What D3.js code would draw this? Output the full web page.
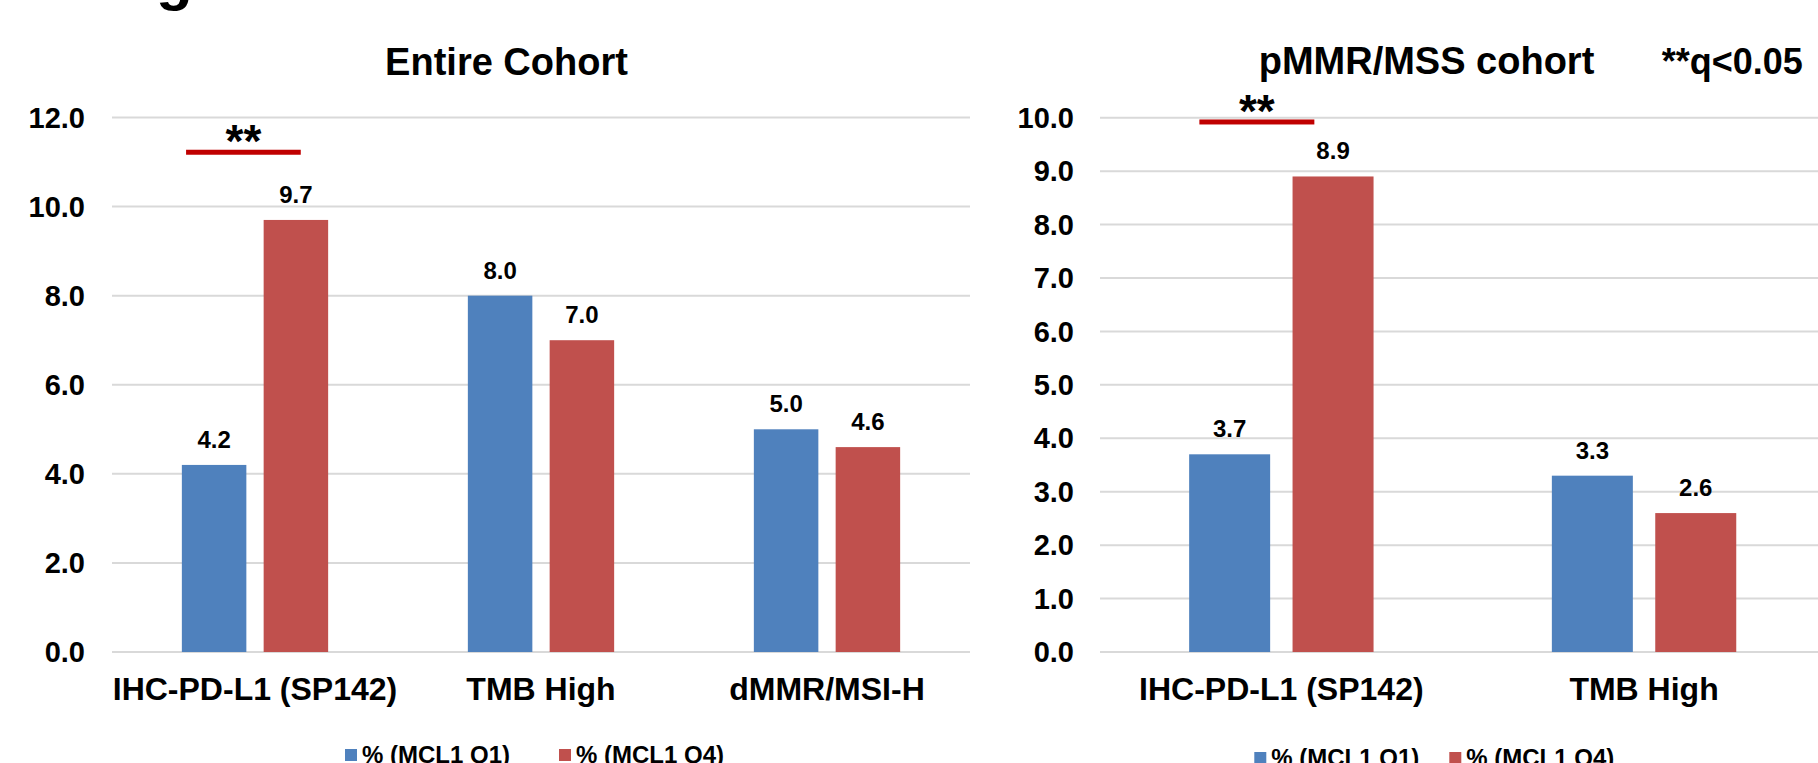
<!DOCTYPE html>
<html>
<head>
<meta charset="utf-8">
<script src="https://cdn.jsdelivr.net/npm/d3@7"></script>
<style>
  html, body { margin: 0; padding: 0; background: #ffffff; overflow: hidden; }
  svg { display: block; font-family: "Liberation Sans", Arial, sans-serif; }
</style>
</head>
<body>
<svg id="chart" width="1818" height="763"></svg>
<script>
// ---- data ----
const seriesNames = ["% (MCL1 Q1)", "% (MCL1 Q4)"];
const seriesColors = ["#4F81BD", "#C0504D"];

const categoriesEntire = ["IHC-PD-L1 (SP142)", "TMB High", "dMMR/MSI-H"];
const q1Entire = [4.2, 8.0, 5.0];
const q4Entire = [9.7, 7.0, 4.6];
const ticksEntire = [0, 2, 4, 6, 8, 10, 12];

const categoriesMss = ["IHC-PD-L1 (SP142)", "TMB High"];
const q1Mss = [3.7, 3.3];
const q4Mss = [8.9, 2.6];
const ticksMss = [0, 1, 2, 3, 4, 5, 6, 7, 8, 9, 10];

const significantEntire = ["IHC-PD-L1 (SP142)"];
const significantMss = ["IHC-PD-L1 (SP142)"];
const sigNote = "**q<0.05";

// ---- layout ----
const panels = [
  {
    title: "Entire Cohort", titleX: 506.5, titleY: 75,
    categories: categoriesEntire, q1: q1Entire, q4: q4Entire, ticks: ticksEntire,
    significant: significantEntire, sigValue: 11.22, sigFrom: 0.259, sigTo: 0.66,
    xRange: [112, 970], yRange: [652, 117.5], yMax: 12,
    barW: 64.5, barGap: 17.3, tickX: 85,
    legendX: 345, legendPitch: 214, legendBase: 763
  },
  {
    title: "pMMR/MSS cohort", titleX: 1426.5, titleY: 74.3,
    categories: categoriesMss, q1: q1Mss, q4: q4Mss, ticks: ticksMss,
    significant: significantMss, sigValue: 9.92, sigFrom: 0.274, sigTo: 0.591,
    xRange: [1100, 1825.4], yRange: [652, 117.7], yMax: 10,
    barW: 81, barGap: 22.4, tickX: 1074,
    legendX: 1254.3, legendPitch: 195, legendBase: 766
  }
];

const svg = d3.select("#chart");

// partial heading glyph running off the top edge
svg.append("text")
  .attr("x", 156).attr("y", -1)
  .attr("font-size", 60).attr("font-weight", "bold")
  .attr("fill", "#000")
  .text("g");

panels.forEach(p => {
  const g = svg.append("g");

  const x = d3.scaleBand().domain(p.categories).range(p.xRange).paddingInner(0).paddingOuter(0);
  const y = d3.scaleLinear().domain([0, p.yMax]).range(p.yRange);

  const groupW = 2 * p.barW + p.barGap;
  const xs = d3.scaleBand().domain(seriesNames)
    .range([(x.bandwidth() - groupW) / 2, (x.bandwidth() + groupW) / 2])
    .paddingInner(p.barGap / (p.barW + p.barGap)).paddingOuter(0);

  // gridlines (including the zero baseline)
  g.append("g").selectAll("line").data(p.ticks).join("line")
    .attr("x1", p.xRange[0]).attr("x2", p.xRange[1])
    .attr("y1", d => y(d)).attr("y2", d => y(d))
    .attr("stroke", "#d9d9d9").attr("stroke-width", 2);

  // y tick labels
  g.append("g").selectAll("text").data(p.ticks).join("text")
    .attr("x", p.tickX).attr("y", d => y(d)).attr("dy", "0.35em")
    .attr("text-anchor", "end")
    .attr("font-size", 29).attr("font-weight", "bold").attr("fill", "#000")
    .text(d => d.toFixed(1));

  // bars
  const rows = p.categories.map((c, i) => ({ cat: c, vals: [p.q1[i], p.q4[i]] }));
  const grp = g.append("g").selectAll("g").data(rows).join("g")
    .attr("transform", d => `translate(${x(d.cat)},0)`);

  const cells = d => d.vals.map((v, k) => ({ name: seriesNames[k], color: seriesColors[k], v }));

  grp.selectAll("rect").data(cells).join("rect")
    .attr("x", d => xs(d.name)).attr("width", xs.bandwidth())
    .attr("y", d => y(d.v)).attr("height", d => y(0) - y(d.v))
    .attr("fill", d => d.color);

  // value labels
  grp.selectAll("text.val").data(cells).join("text")
    .attr("class", "val")
    .attr("x", d => xs(d.name) + xs.bandwidth() / 2)
    .attr("y", d => y(d.v) - 17)
    .attr("text-anchor", "middle")
    .attr("font-size", 24).attr("font-weight", "bold").attr("fill", "#000")
    .text(d => d.v.toFixed(1));

  // category labels
  g.append("g").selectAll("text").data(p.categories).join("text")
    .attr("x", d => x(d) + x.bandwidth() / 2).attr("y", 700)
    .attr("text-anchor", "middle")
    .attr("font-size", 32).attr("font-weight", "bold").attr("fill", "#000")
    .text(d => d);

  // significance markers
  p.significant.forEach(c => {
    const a = x(c) + p.sigFrom * x.bandwidth();
    const b = x(c) + p.sigTo * x.bandwidth();
    const yy = y(p.sigValue);
    g.append("rect")
      .attr("x", a).attr("width", b - a)
      .attr("y", yy - 2.5).attr("height", 5)
      .attr("fill", "#C00000");
    g.append("text")
      .attr("x", (a + b) / 2).attr("y", yy + 5)
      .attr("text-anchor", "middle")
      .attr("font-size", 46).attr("font-weight", "bold").attr("fill", "#000")
      .text("**");
  });

  // title
  g.append("text")
    .attr("x", p.titleX).attr("y", p.titleY)
    .attr("text-anchor", "middle")
    .attr("font-size", 38).attr("font-weight", "bold").attr("fill", "#000")
    .text(p.title);

  // legend
  const leg = g.append("g").selectAll("g").data(seriesNames).join("g")
    .attr("transform", (d, i) => `translate(${p.legendX + i * p.legendPitch},${p.legendBase})`);
  leg.append("rect")
    .attr("x", 0).attr("y", -14).attr("width", 12).attr("height", 12)
    .attr("fill", (d, i) => seriesColors[i]);
  leg.append("text")
    .attr("x", 17).attr("y", 0)
    .attr("font-size", 24).attr("font-weight", "bold").attr("fill", "#000")
    .text(d => d);
});

// significance note
svg.append("text")
  .attr("x", 1661.7).attr("y", 74.3)
  .attr("font-size", 36).attr("font-weight", "bold").attr("fill", "#000")
  .text(sigNote);
</script>
</body>
</html>
